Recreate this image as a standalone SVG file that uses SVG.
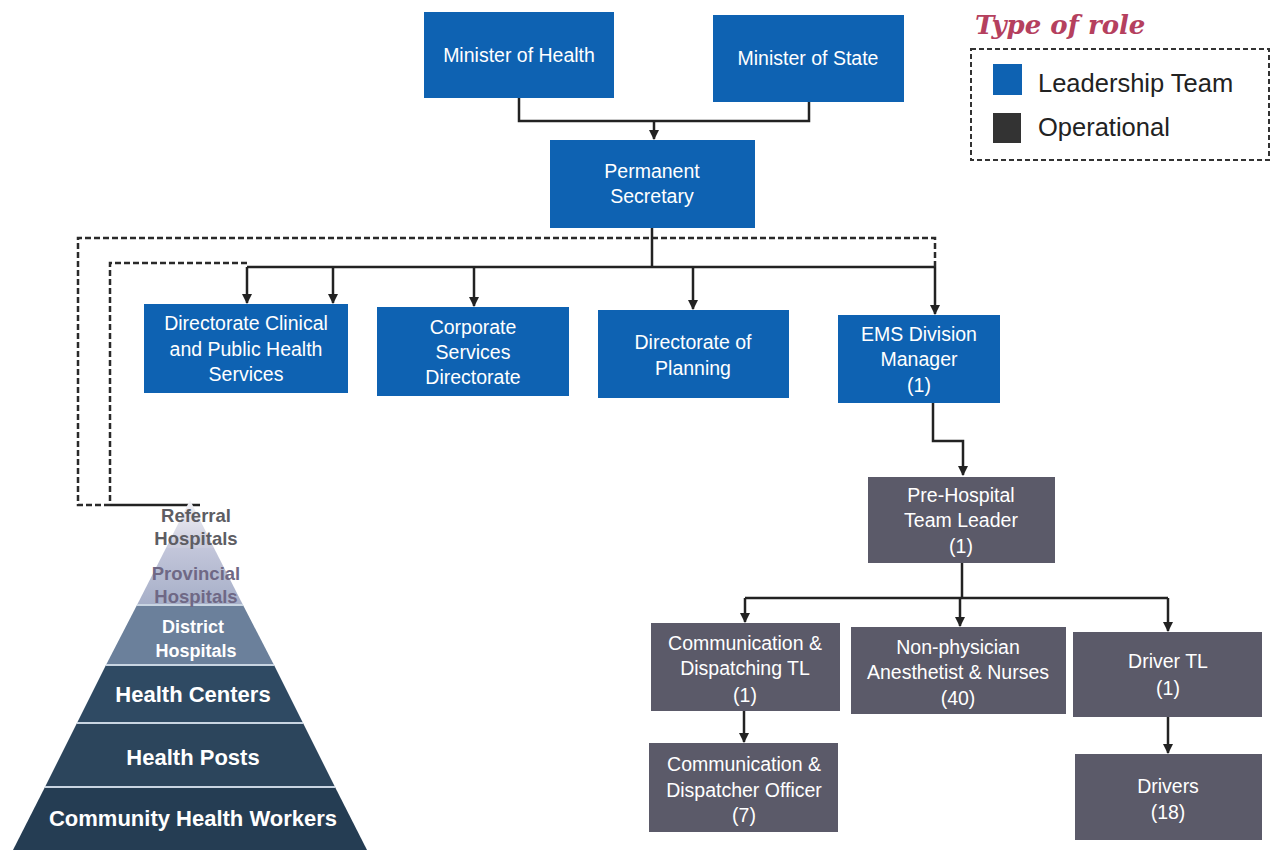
<svg xmlns="http://www.w3.org/2000/svg" width="1271" height="854" viewBox="0 0 1271 854">
  <defs>
    <marker id="arrow" viewBox="0 0 10 10" refX="9" refY="5" markerWidth="4.2" markerHeight="4.2" orient="auto" markerUnits="strokeWidth">
      <path d="M0,0 L10,5 L0,10 Z" fill="#222"/>
    </marker>
    <linearGradient id="topTier" x1="0" y1="0" x2="0" y2="1">
      <stop offset="0" stop-color="#f4f4f8"/>
      <stop offset="1" stop-color="#c9cbdc"/>
    </linearGradient>
    <linearGradient id="provTier" x1="0" y1="0" x2="0" y2="1">
      <stop offset="0" stop-color="#c3c6da"/>
      <stop offset="1" stop-color="#a6afc8"/>
    </linearGradient>
  </defs>
  <style>
    .lead { fill: #0e62b2; }
    .oper { fill: #5b5a69; }
    .box-text { font-family: "Liberation Sans", Arial, sans-serif; font-size: 19.5px; fill: #ffffff; text-anchor: middle; }
    .wire { fill: none; stroke: #222; stroke-width: 2.5; }
    .dash { fill: none; stroke: #2a2a2a; stroke-width: 2.5; stroke-dasharray: 6 3; }
    .tier-text { font-family: "Liberation Sans", Arial, sans-serif; font-weight: bold; fill: #ffffff; text-anchor: middle; }
    .tier-sep { stroke: #c9d5e2; stroke-width: 2; }
    .legend-text { font-family: "Liberation Sans", Arial, sans-serif; font-size: 25.5px; fill: #222; }
  </style>
  <rect width="1271" height="854" fill="#ffffff"/>

  <!-- legend -->
  <g id="legend">
    <text x="975" y="34" font-family="'DejaVu Serif', serif" font-style="italic" font-weight="bold" font-size="26" fill="#b5405e">Type of role</text>
    <rect x="971" y="49" width="298" height="111" fill="none" stroke="#333" stroke-width="2" stroke-dasharray="5 3"/>
    <rect x="993" y="64" width="29" height="31" fill="#0e62b2"/>
    <text class="legend-text" x="1038" y="92">Leadership Team</text>
    <rect x="993" y="113" width="28" height="30" fill="#333333"/>
    <text class="legend-text" x="1038" y="136">Operational</text>
  </g>

  <!-- connectors -->
  <g id="connectors">
    <path class="wire" d="M519,98 V121 H809 V102"/>
    <path class="wire" d="M654,121 V139" marker-end="url(#arrow)"/>
    <path class="wire" d="M652,228 V268"/>
    <path class="wire" d="M247,267 H935"/>
    <path class="wire" d="M247,267 V303" marker-end="url(#arrow)"/>
    <path class="wire" d="M333,267 V303" marker-end="url(#arrow)"/>
    <path class="wire" d="M474,267 V306" marker-end="url(#arrow)"/>
    <path class="wire" d="M693,267 V309" marker-end="url(#arrow)"/>
    <path class="wire" d="M935,267 V314" marker-end="url(#arrow)"/>
    <path class="dash" d="M935,267 V238 H78 V505 H110"/>
    <path class="dash" d="M247,263 H110 V505"/>
    <path class="wire" d="M110,505 H200"/>
    <path class="wire" d="M933,403 V441 H963 V475" marker-end="url(#arrow)"/>
    <path class="wire" d="M962,563 V598"/>
    <path class="wire" d="M745,598 H1168"/>
    <path class="wire" d="M745,598 V622" marker-end="url(#arrow)"/>
    <path class="wire" d="M960,598 V626" marker-end="url(#arrow)"/>
    <path class="wire" d="M1168,598 V631" marker-end="url(#arrow)"/>
    <path class="wire" d="M744,711 V742" marker-end="url(#arrow)"/>
    <path class="wire" d="M1168,717 V753" marker-end="url(#arrow)"/>
  </g>

  <!-- leadership nodes -->
  <g id="minister-health">
    <rect class="lead" x="424" y="12" width="190" height="86"/>
    <text class="box-text" x="519" y="62">Minister of Health</text>
  </g>
  <g id="minister-state">
    <rect class="lead" x="713" y="15" width="191" height="87"/>
    <text class="box-text" x="808" y="65">Minister of State</text>
  </g>
  <g id="permanent-secretary">
    <rect class="lead" x="550" y="140" width="205" height="88"/>
    <text class="box-text" x="652" y="178">Permanent</text>
    <text class="box-text" x="652" y="203">Secretary</text>
  </g>
  <g id="dir-clinical">
    <rect class="lead" x="144" y="304" width="204" height="89"/>
    <text class="box-text" x="246" y="330">Directorate Clinical</text>
    <text class="box-text" x="246" y="356">and Public Health</text>
    <text class="box-text" x="246" y="381">Services</text>
  </g>
  <g id="corporate-services">
    <rect class="lead" x="377" y="307" width="192" height="89"/>
    <text class="box-text" x="473" y="334">Corporate</text>
    <text class="box-text" x="473" y="359">Services</text>
    <text class="box-text" x="473" y="384">Directorate</text>
  </g>
  <g id="dir-planning">
    <rect class="lead" x="598" y="310" width="191" height="88"/>
    <text class="box-text" x="693" y="349">Directorate of</text>
    <text class="box-text" x="693" y="375">Planning</text>
  </g>
  <g id="ems-manager">
    <rect class="lead" x="838" y="315" width="162" height="88"/>
    <text class="box-text" x="919" y="341">EMS Division</text>
    <text class="box-text" x="919" y="366">Manager</text>
    <text class="box-text" x="919" y="392">(1)</text>
  </g>

  <!-- operational nodes -->
  <g id="prehospital-lead">
    <rect class="oper" x="868" y="477" width="187" height="86"/>
    <text class="box-text" x="961" y="502">Pre-Hospital</text>
    <text class="box-text" x="961" y="527">Team Leader</text>
    <text class="box-text" x="961" y="553">(1)</text>
  </g>
  <g id="dispatch-tl">
    <rect class="oper" x="651" y="623" width="189" height="88"/>
    <text class="box-text" x="745" y="650">Communication &amp;</text>
    <text class="box-text" x="745" y="675">Dispatching TL</text>
    <text class="box-text" x="745" y="702">(1)</text>
  </g>
  <g id="nurses">
    <rect class="oper" x="851" y="627" width="215" height="87"/>
    <text class="box-text" x="958" y="654">Non-physician</text>
    <text class="box-text" x="958" y="679">Anesthetist &amp; Nurses</text>
    <text class="box-text" x="958" y="705">(40)</text>
  </g>
  <g id="driver-tl">
    <rect class="oper" x="1073" y="632" width="189" height="85"/>
    <text class="box-text" x="1168" y="668">Driver TL</text>
    <text class="box-text" x="1168" y="695">(1)</text>
  </g>
  <g id="dispatch-officer">
    <rect class="oper" x="649" y="743" width="189" height="89"/>
    <text class="box-text" x="744" y="771">Communication &amp;</text>
    <text class="box-text" x="744" y="797">Dispatcher Officer</text>
    <text class="box-text" x="744" y="822">(7)</text>
  </g>
  <g id="drivers">
    <rect class="oper" x="1075" y="754" width="187" height="86"/>
    <text class="box-text" x="1168" y="793">Drivers</text>
    <text class="box-text" x="1168" y="819">(18)</text>
  </g>

  <!-- health facility pyramid -->
  <g id="pyramid">
    <polygon points="190,500 214,548 166,548" fill="url(#topTier)"/>
    <polygon points="166,548 214,548 243,605 137,605" fill="url(#provTier)"/>
    <polygon points="137,605 243,605 274,665 106,665" fill="#6b809b"/>
    <polygon points="106,665 274,665 303,723 77,723" fill="#2f4a63"/>
    <polygon points="77,723 303,723 335,787 45,787" fill="#2c455c"/>
    <polygon points="45,787 335,787 367,850 13,850" fill="#253d53"/>
    <line class="tier-sep" x1="137" y1="605" x2="243" y2="605"/>
    <line class="tier-sep" x1="106" y1="665" x2="274" y2="665"/>
    <line class="tier-sep" x1="77" y1="723" x2="303" y2="723"/>
    <line class="tier-sep" x1="45" y1="787" x2="335" y2="787"/>
    <text class="tier-text" x="196" y="522" font-size="18.5" style="fill:#5d5d63">Referral</text>
    <text class="tier-text" x="196" y="545" font-size="18.5" style="fill:#5d5d63">Hospitals</text>
    <text class="tier-text" x="196" y="580" font-size="18.5" style="fill:#6f6885">Provincial</text>
    <text class="tier-text" x="196" y="603" font-size="18.5" style="fill:#6f6885">Hospitals</text>
    <text class="tier-text" x="193" y="633" font-size="18">District</text>
    <text class="tier-text" x="196" y="657" font-size="18">Hospitals</text>
    <text class="tier-text" x="193" y="702" font-size="22">Health Centers</text>
    <text class="tier-text" x="193" y="765" font-size="22">Health Posts</text>
    <text class="tier-text" x="193" y="826" font-size="22">Community  Health Workers</text>
  </g>
</svg>
